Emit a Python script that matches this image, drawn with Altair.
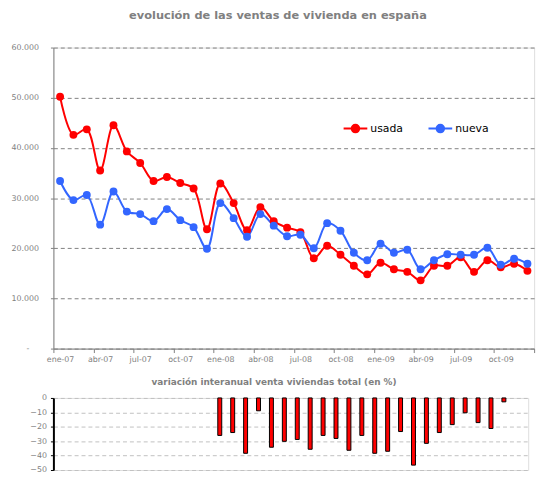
import json
import altair as alt
import pandas as pd

# ---------------- data ----------------
meses = ["ene", "feb", "mar", "abr", "may", "jun", "jul", "ago", "sep", "oct", "nov", "dic"]
anios = ["07", "08", "09"]
periodos = [f"{m}-{a}" for a in anios for m in meses]

usada = [50200, 42600, 43700, 35500, 44500, 39300, 37000, 33400, 34200, 33000, 31900, 23800,
         32900, 29000, 23600, 28200, 25400, 24100, 23200, 18000, 20500, 18700, 16500, 14800,
         17100, 15800, 15300, 13600, 16500, 16500, 18200, 15300, 17600, 16200, 16900, 15500]
nueva = [33400, 29600, 30600, 24700, 31300, 27300, 26800, 25400, 27800, 25600, 24200, 19900,
         29000, 26000, 22300, 26800, 24500, 22400, 22700, 20000, 25000, 23500, 19100, 17600,
         20900, 19100, 19700, 15800, 17600, 18800, 18700, 18700, 20100, 16700, 17900, 16900]

# variación interanual (%) ene-08 ... nov-09
variacion = [-26.0, -24.0, -38.4, -8.9, -34.2, -30.1, -28.8, -35.6, -26.0, -28.1, -36.3, -26.0,
             -38.4, -37.0, -23.3, -46.6, -31.5, -24.0, -18.5, -10.3, -17.1, -21.2, -2.7]

etiquetas_x = ["ene-07", "abr-07", "jul-07", "oct-07", "ene-08", "abr-08",
               "jul-08", "oct-08", "ene-09", "abr-09", "jul-09", "oct-09"]
series = ["usada", "nueva"]
colores = ["#ff0000", "#3366ff"]

titulo = "evolución de las ventas de vivienda en españa"
subtitulo = "variación interanual venta viviendas total (en %)"

# ---------------- tables ----------------
n = len(periodos)
df = pd.DataFrame({
    "periodo": periodos * 2,
    "pos": [i + 0.5 for i in range(n)] * 2,
    "serie": [series[0]] * n + [series[1]] * n,
    "valor": usada + nueva,
})
inicio_var = periodos.index("ene-08")
dv = pd.DataFrame({
    "periodo": periodos[inicio_var:inicio_var + len(variacion)],
    "pos": [inicio_var + i + 0.5 for i in range(len(variacion))],
    "variacion": variacion,
})

FONT = "DejaVu Sans"
GRAY = "#808080"
W_TOP, H_TOP = 487, 305
W_BOT, H_BOT = 481, 73
half_step = W_TOP / n / 2

label_expr = (f"datum.value < {3 * len(etiquetas_x)} ? "
              f"{json.dumps(etiquetas_x)}[datum.value / 3] : ''")

x_top = alt.X(
    "pos:Q",
    scale=alt.Scale(domain=[0, n], nice=False, zero=False),
    axis=alt.Axis(values=list(range(0, n + 1, 3)), labelExpr=label_expr,
                  labelFlush=False, labelOverlap=False, labelOffset=half_step,
                  grid=False, tickSize=4, tickColor=GRAY, domainColor=GRAY,
                  labelColor=GRAY, labelFont=FONT, labelFontSize=8, labelPadding=3,
                  title=None),
)
y_top = alt.Y(
    "valor:Q",
    scale=alt.Scale(domain=[0, 60000], nice=False),
    axis=alt.Axis(values=list(range(0, 60001, 10000)),
                  labelExpr="datum.value == 0 ? '-' : replace(format(datum.value, ','), ',', '.')",
                  grid=True, gridDash=[4, 3], gridColor=GRAY, gridWidth=1,
                  tickSize=3, tickColor=GRAY, domainColor=GRAY,
                  labelColor=GRAY, labelFont=FONT, labelFontSize=8,
                  labelPadding={"condition": {"test": "datum.value === 0", "value": 22},
                                "value": 12},
                  title=None),
)

# legend symbol: short line with a filled dot (concentric rings)
sym = ("M-1,0L1,0"
       "M-0.32,0a0.32,0.32 0 1,0 0.64,0a0.32,0.32 0 1,0 -0.64,0"
       "M-0.2,0a0.2,0.2 0 1,0 0.4,0a0.2,0.2 0 1,0 -0.4,0"
       "M-0.08,0a0.08,0.08 0 1,0 0.16,0a0.08,0.08 0 1,0 -0.16,0")

color_scale = alt.Scale(domain=series, range=colores)

lineas = alt.Chart(df).mark_line(strokeWidth=2, interpolate="catmull-rom").encode(
    x=x_top, y=y_top,
    color=alt.Color("serie:N", scale=color_scale, sort=series,
                    legend=alt.Legend(orient="none", legendX=293, legendY=69,
                                      direction="horizontal", title=None,
                                      symbolType=sym, symbolSize=576,
                                      symbolStrokeWidth=2,
                                      labelFont=FONT, labelFontSize=11,
                                      labelColor="black", labelOffset=2,
                                      columnPadding=21)),
    detail="serie:N",
)
puntos = alt.Chart(df).mark_circle(size=64, opacity=1).encode(
    x=x_top, y=y_top,
    color=alt.Color("serie:N", scale=color_scale, legend=None),
)

top = alt.layer(lineas, puntos).properties(
    width=W_TOP, height=H_TOP,
    title=alt.Title(titulo, font=FONT, fontSize=11.5, fontWeight="bold",
                    color=GRAY, offset=22.5, dx=-16),
)

barras = alt.Chart(dv).mark_bar(width=4, color="#ff0000", stroke="black",
                                strokeWidth=1, orient="vertical").encode(
    x=alt.X("pos:Q", scale=alt.Scale(domain=[0, n], nice=False, zero=False), axis=None),
    y=alt.Y("variacion:Q", scale=alt.Scale(domain=[-50, 0], nice=False),
            axis=alt.Axis(values=list(range(0, -51, -10)), grid=True,
                          gridDash=[4, 3], gridColor="#c0c0c0",
                          domainColor="black", domainWidth=2,
                          tickColor="black", tickSize=3, tickWidth=1,
                          labelColor=GRAY, labelFont=FONT, labelFontSize=8,
                          labelPadding=4, title=None)),
    y2=alt.datum(0),
).properties(
    width=W_BOT, height=H_BOT,
    title=alt.Title(subtitulo, font=FONT, fontSize=9, fontWeight="bold",
                    color=GRAY, offset=7, dx=-17),
)

chart = alt.vconcat(top, barras, spacing=50, bounds="flush").properties(
    padding={"left": 2, "top": -2, "right": 1, "bottom": -3},
).configure_view(stroke=None).configure(font=FONT)

chart.save("out.html", embed_options={"renderer": "svg", "actions": False})
